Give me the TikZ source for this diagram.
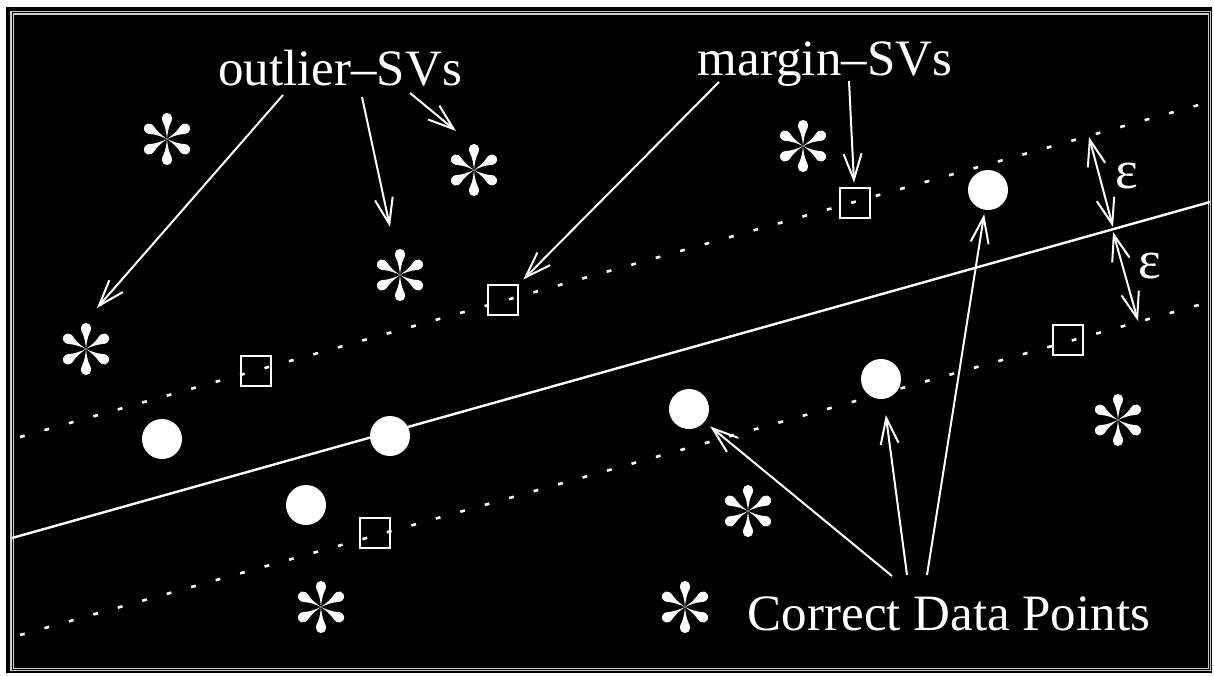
\documentclass[tikz,border=0pt]{standalone}
\usepackage{fontspec}
\setmainfont{Liberation Serif}
\usetikzlibrary{arrows.meta}
\tikzset{
  aster/.pic={
    \foreach \a in {30,90,...,330}{
      \fill[white,rotate=\a] (0,0) .. controls (7,-0.6) and (12,-1.8) .. (15.5,-3.4)
        .. controls (17.5,-4.5) and (19.3,-5.1) .. (21,-5.1)
        .. controls (23.9,-5.1) and (26,-2.8) .. (26,0)
        .. controls (26,2.8) and (23.9,5.1) .. (21,5.1)
        .. controls (19.3,5.1) and (17.5,4.5) .. (15.5,3.4)
        .. controls (12,1.8) and (7,0.6) .. (0,0) -- cycle;
    }
  }
}
\begin{document}
\begin{tikzpicture}[x=0.5pt,y=0.5pt,
  txt/.style={text=white,font=\fontsize{25.5pt}{30pt}\selectfont,inner sep=0pt,anchor=base},
  epstxt/.style={text=white,font=\fontsize{27pt}{30pt}\selectfont,inner sep=0pt,anchor=base},
  datadot/.style={circle,fill=white,minimum size=20pt,inner sep=0pt},
  svbox/.style={draw=white,line width=1.3pt,minimum size=15pt,inner sep=0pt},
  arr/.style={white,line width=1pt,-{Straight Barb[length=13pt,width=9pt]}},
  darr/.style={white,line width=1pt,{Straight Barb[length=13pt,width=9pt]}-{Straight Barb[length=13pt,width=9pt]}},
  margline/.style={white,line width=1.3pt,dash pattern=on 2.4pt off 10.3pt},
  sepline/.style={white,line width=1.2pt},
  frameline/.style={draw=white!80!black,line width=0.8pt}]
\useasboundingbox (0,0) rectangle (1214,-675);
\fill[white] (0,0) rectangle (1214,-675);
\fill[black] (6,-7) rectangle (1212,-673);
\draw[frameline] (10.8,-11.3) rectangle (1210.3,-670.3);
\draw[frameline] (13.6,-14.1) rectangle (1208.6,-668.6);

% separating line and margins
\coordinate (hl) at (12,-538);
\coordinate (hr) at (1210,-202);
\draw[sepline] (hl) -- (hr);
\coordinate (ul) at (20,-437);
\coordinate (ur) at (1200,-104.6);
\draw[margline] (ul) -- (ur);
\coordinate (ll) at (20,-635);
\coordinate (lr) at (1200,-304.6);
\draw[margline] (ll) -- (lr);

% asterisks (outliers / other points)
\pic at (167,-139) {aster};
\pic at (86,-349) {aster};
\pic at (400,-275) {aster};
\pic at (474,-170) {aster};
\pic at (803,-146) {aster};
\pic at (1118,-420) {aster};
\pic at (748,-511) {aster};
\pic at (321,-607) {aster};
\pic at (685,-607) {aster};

% data points
\node[datadot] (d1) at (162,-439) {};
\node[datadot] (d2) at (390,-436) {};
\node[datadot] (d3) at (306,-505) {};
\node[datadot] (d4) at (689,-409) {};
\node[datadot] (d5) at (881,-379) {};
\node[datadot] (d6) at (988,-190) {};

% margin support vectors
\node[svbox] (s1) at (256,-371) {};
\node[svbox] (s2) at (503,-300) {};
\node[svbox] (s3) at (855,-203) {};
\node[svbox] (s4) at (1068,-340) {};
\node[svbox] (s5) at (375,-533) {};

% labels
\node[txt] (outl) at (340,-85) {outlier–SVs};
\node[txt] (marg) at (825,-75) {margin–SVs};
\node[txt] (corr) at (949,-630) {Correct Data Points};
\node[epstxt] (eps1) at (1127,-188) {ε};
\node[epstxt] (eps2) at (1150,-278) {ε};

% arrows from outlier label
\coordinate (o1t) at (283,-95);  \coordinate (o1h) at (97,-308);
\coordinate (o2t) at (362,-97);  \coordinate (o2h) at (390,-227);
\coordinate (o3t) at (410,-93);  \coordinate (o3h) at (456,-131);
\draw[arr] (o1t) -- (o1h);
\draw[arr] (o2t) -- (o2h);
\draw[arr] (o3t) -- (o3h);

% arrows from margin label
\coordinate (m1t) at (719,-82);
\coordinate (m2t) at (849,-81);
\draw[arr,shorten >=3pt] (m1t) -- (s2);
\draw[arr,shorten >=2pt] (m2t) -- (s3);

% arrows from correct label
\coordinate (c1t) at (892,-576);
\coordinate (c2t) at (907,-575);
\coordinate (c3t) at (927,-575);
\draw[arr,shorten >=3.5pt] (c1t) -- (d4);
\draw[arr,shorten >=8pt] (c2t) -- (d5);
\draw[arr,shorten >=2pt] (c3t) -- (d6);

% epsilon arrows
\coordinate (e1a) at (1089,-137); \coordinate (e1b) at (1113,-227);
\coordinate (e2a) at (1113,-232); \coordinate (e2b) at (1138,-321);
\draw[darr] (e1a) -- (e1b);
\draw[darr] (e2a) -- (e2b);
\end{tikzpicture}
\end{document}
